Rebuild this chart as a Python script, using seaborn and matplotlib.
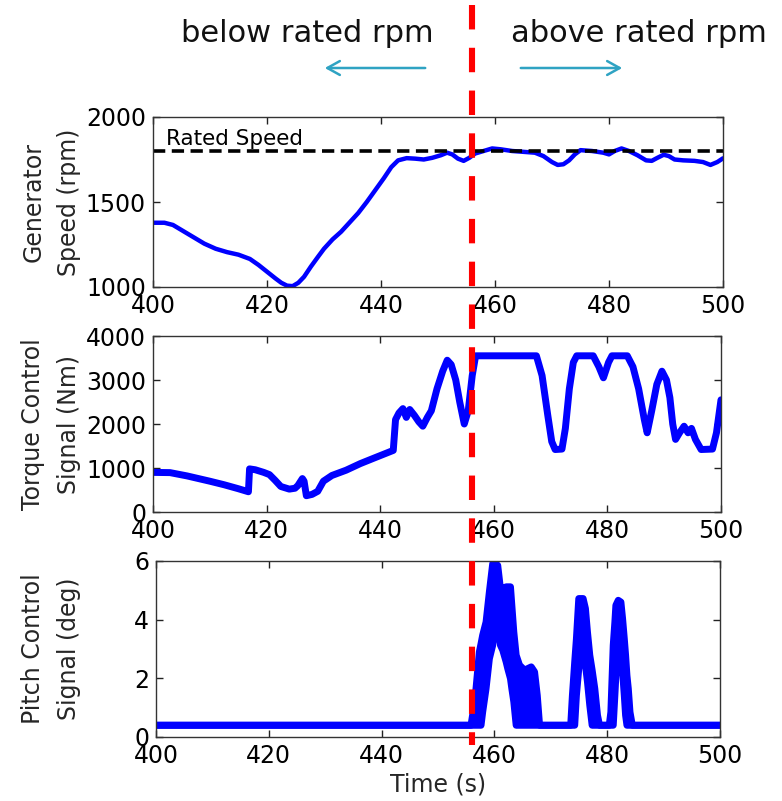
import matplotlib
matplotlib.use("Agg")
import matplotlib.pyplot as plt
import matplotlib.transforms as mtransforms
from matplotlib.lines import Line2D
from matplotlib.patches import FancyArrowPatch
import seaborn as sns
import pandas as pd

# ---------------- data ----------------
rated_speed = 1800
switch_time = 456

speed_t = [400, 402, 403.5, 405, 407, 409, 411, 413, 415, 417, 418.5, 420, 421.5, 422.5,
           423.5, 424.5, 425.5, 426.5, 427.7, 429, 430, 431.5, 433, 434.5, 436, 437.5, 439,
           440.5, 441.8, 443, 444.5, 446, 447.5, 449, 450.5, 451.6, 452.5, 453.5, 454.5,
           455.5, 456.5, 458, 459.5, 461, 463, 465, 467, 468.5, 470, 471, 472, 473, 474,
           475, 477, 479, 480, 481, 482.2, 483.5, 485, 486.5, 487.5, 488.5, 489.6, 490.5,
           491.5, 493, 495, 496.5, 497.8, 499, 500]
speed_v = [1378, 1378, 1365, 1335, 1295, 1255, 1225, 1205, 1190, 1165, 1130, 1090, 1050, 1025,
           1008, 1005, 1025, 1060, 1120, 1180, 1225, 1280, 1325, 1380, 1435, 1500, 1570,
           1640, 1705, 1745, 1758, 1755, 1750, 1760, 1775, 1790, 1780, 1755, 1742,
           1760, 1785, 1800, 1815, 1810, 1800, 1795, 1790, 1770, 1735, 1718, 1722, 1745, 1780,
           1805, 1800, 1790, 1780, 1800, 1815, 1800, 1775, 1745, 1742, 1760, 1778, 1770,
           1750, 1745, 1742, 1735, 1718, 1735, 1757]

torque_t = [400, 403, 406, 408, 410, 412.5, 415, 416.8, 417, 418, 419.5, 420.5, 421.5, 422.5,
            424, 425, 425.5, 426.3, 426.6, 427, 428, 429, 430, 431.5, 434, 436.5, 439, 442.3,
            442.7, 443.3, 444, 444.6, 445.2, 446, 446.8, 447.5, 448.3, 449, 450, 451, 451.8,
            452.5, 453.3, 454, 454.8, 455.5, 456.2, 456.8, 467.5, 468.5, 469.5, 470.2, 470.8,
            472, 472.6, 473.3, 474, 474.6, 477.5, 478.5, 479.3, 480.2, 480.8, 483.5, 484.5,
            485.5, 486.5, 487, 487.8, 488.7, 489.6, 490.4, 491, 491.5, 492, 492.7, 493.5,
            494.2, 494.8, 495.5, 496.5, 498.5, 499.2, 500]
torque_v = [900, 895, 820, 760, 700, 620, 530, 460, 980, 960, 900, 850, 720, 580,
            520, 540, 600, 760, 700, 370, 400, 470, 700, 830, 950, 1100, 1230, 1400,
            2100, 2250, 2350, 2150, 2330, 2200, 2050, 1950, 2150, 2300, 2800, 3200, 3450,
            3350, 3000, 2500, 2000, 2300, 3100, 3550, 3550, 3100, 2200, 1600, 1420,
            1430, 1900, 2800, 3400, 3550, 3550, 3300, 3050, 3400, 3550, 3550, 3300,
            2800, 2100, 1800, 2300, 2900, 3200, 3000, 2600, 2000, 1650, 1800, 1950,
            1800, 1900, 1650, 1420, 1430, 1800, 2550]

# pitch signal oscillates fast: read as an upper and a lower envelope
pitch_t = [400,
           455.85, 456.32, 456.74, 457.33, 457.63, 457.92, 458.52, 459.11, 459.70, 460.00,
           460.59, 461.07, 461.48, 462.08, 462.37, 462.85, 463.09, 463.44, 463.86, 464.45,
           465.34, 466.53, 467.12, 467.60, 468.01,
           473.53, 473.83, 474.24, 474.54, 474.96, 475.31, 475.73, 476.14, 476.50, 476.91,
           477.33, 477.80, 478.28, 478.64,
           480.36, 480.65, 481.07, 481.36, 481.54, 481.96, 482.43, 482.73, 483.03, 483.26,
           483.50, 483.74, 484.04, 484.45,
           500]
pitch_upper = [0.4,
               0.4, 0.97, 1.65, 2.90, 3.18, 3.47, 3.92, 4.95, 5.91, 5.95,
               5.85, 5.06, 5.06, 5.12, 5.12, 5.12, 4.49, 3.58, 2.79, 2.45,
               2.28, 2.39, 2.22, 1.42, 0.4,
               0.4, 1.42, 2.56, 3.35, 4.72, 4.72, 4.72, 4.38, 3.58, 2.79,
               2.28, 1.65, 0.74, 0.4,
               0.4, 0.85, 3.13, 3.92, 4.49, 4.66, 4.60, 4.03, 3.35, 2.79,
               2.10, 1.65, 0.85, 0.4,
               0.4]
pitch_lower = [0.4,
               0.4, 0.4, 0.4, 0.4, 0.4, 0.85, 1.65, 2.67, 3.13, 3.75,
               3.75, 3.13, 2.96, 2.56, 2.33, 1.99, 1.65, 1.20, 0.4, 0.4,
               0.4, 0.4, 0.4, 0.4, 0.4,
               0.4, 0.4, 0.4, 1.42, 2.33, 2.84, 2.90, 2.45, 1.88, 1.08,
               0.4, 0.4, 0.4, 0.4,
               0.4, 0.4, 0.4, 1.42, 2.10, 2.56, 2.56, 2.22, 1.42, 0.74,
               0.4, 0.4, 0.4, 0.4,
               0.4]

x_ticks = [400, 420, 440, 460, 480, 500]
speed_ticks = [1000, 1500, 2000]
torque_ticks = [0, 1000, 2000, 3000, 4000]
pitch_ticks = [0, 2, 4, 6]

ylabels = ["Generator\nSpeed (rpm)", "Torque Control\nSignal (Nm)", "Pitch Control\nSignal (deg)"]

# ---------------- style ----------------
sns.set_style("ticks")
plt.rcParams["font.family"] = ["DejaVu Sans"]

W, H = 782, 801
fig = plt.figure(figsize=(W / 100, H / 100), dpi=100)

def px_axes(l, t, r, b):
    return fig.add_axes([l / W, 1 - b / H, (r - l) / W, (b - t) / H])

ax1 = px_axes(153, 117, 723, 287)
ax2 = px_axes(153, 336, 721, 512)
ax3 = px_axes(156, 561, 720, 737)
axes = [ax1, ax2, ax3]

blue = "#0000ff"
df_s = pd.DataFrame({"t": speed_t, "v": speed_v})
df_q = pd.DataFrame({"t": torque_t, "v": torque_v})
df_p = pd.DataFrame({"t": pitch_t, "upper": pitch_upper, "lower": pitch_lower})

sns.lineplot(data=df_s, x="t", y="v", ax=ax1, color=blue, lw=3.2, sort=False, estimator=None)
sns.lineplot(data=df_q, x="t", y="v", ax=ax2, color=blue, lw=5.0, sort=False, estimator=None)
ax3.fill_between(df_p["t"], df_p["lower"], df_p["upper"], color=blue, lw=0)
sns.lineplot(data=df_p, x="t", y="upper", ax=ax3, color=blue, lw=5.0, sort=False, estimator=None)
sns.lineplot(data=df_p, x="t", y="lower", ax=ax3, color=blue, lw=5.0, sort=False, estimator=None)

ax1.axhline(rated_speed, color="black", lw=2.6, dashes=(3.4, 1.8))
ax1.text(402.3, 1835, "Rated Speed", fontsize=15.5, color="black", va="baseline", ha="left")

ylims = [(1000, 2000), (0, 4000), (0, 6)]
yticks = [speed_ticks, torque_ticks, pitch_ticks]
for ax, yl, yt, lab in zip(axes, ylims, yticks, ylabels):
    ax.set_xlim(400, 500)
    ax.set_ylim(*yl)
    ax.set_xticks(x_ticks)
    ax.set_yticks(yt)
    ax.set_xlabel("")
    ax.set_ylabel(lab, fontsize=17, linespacing=1.6)
    ax.yaxis.label.set_va("center")
    bb = ax.get_position()
    ax.yaxis.set_label_coords((51 / W - bb.x0) / bb.width, 0.5)
    ax.tick_params(direction="in", length=5, width=1, top=True, right=True,
                   labelsize=17, pad=5, colors="#222222", labelcolor="black")
    for s in ax.spines.values():
        s.set_visible(True)
        s.set_color("#333333")
        s.set_linewidth(1.0)
    ax.set_facecolor("white")

ax3.set_xlabel("Time (s)", fontsize=17, labelpad=3)

# red switching line across the figure
trans = mtransforms.blended_transform_factory(ax1.transData, fig.transFigure)
red_line = Line2D([switch_time, switch_time], [1 - 5 / H, 1 - 745 / H], transform=trans,
                  color="#ff0000", lw=4.4, dashes=(4.0, 3.0), clip_on=False)
fig.add_artist(red_line)

# header annotations
arrow_col = "#2fa3c3"
fig.text(307 / W, 1 - 42 / H, "below rated rpm", fontsize=22,
         ha="center", va="baseline", color="#111111")
fig.text(639 / W, 1 - 42 / H, "above rated rpm", fontsize=22,
         ha="center", va="baseline", color="#111111")
for x0, x1 in [(428, 322), (518, 625)]:
    fig.add_artist(FancyArrowPatch(
        (x0 / W, 1 - 68 / H), (x1 / W, 1 - 68 / H), transform=fig.transFigure,
        arrowstyle="->,head_length=9,head_width=5", color=arrow_col, lw=1.8))

fig.savefig("out.png", dpi=100, facecolor="white")
